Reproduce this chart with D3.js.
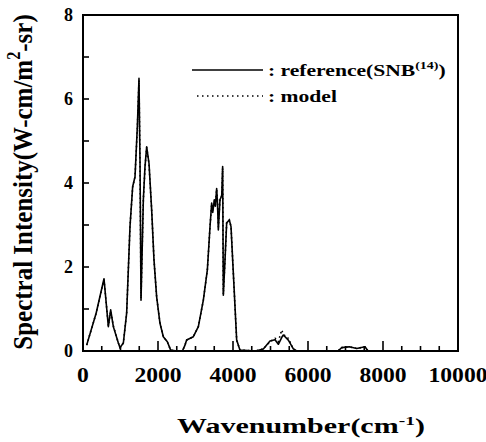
<!DOCTYPE html>
<html>
<head>
<meta charset="utf-8">
<script src="https://cdn.jsdelivr.net/npm/d3@7/dist/d3.min.js"></script>
<style>
  body { margin: 0; background: #fff; }
  text { font-family: "Liberation Serif", "Times New Roman", serif; font-weight: bold; fill: #000; }
</style>
</head>
<body>
<div id="chart"></div>
<script>
// wavenumber (cm-1) and spectral intensity
const wavenumber = [98, 350, 560, 676, 738, 809, 943, 987, 1076, 1164, 1253, 1324, 1387, 1449, 1493, 1520, 1547,
  1609, 1653, 1698, 1760, 1831, 1893, 1964, 2053, 2142, 2249, 2338, 2500, 2650, 2720, 2764, 2942, 3076, 3209,
  3316, 3387, 3431, 3460, 3502, 3530, 3564, 3587, 3609, 3653, 3700, 3724, 3742, 3787, 3831, 3902, 3947, 4009,
  4098, 4187, 4600, 4809, 4987, 5120, 5209, 5298, 5342, 5476, 5609, 5700, 6800, 6900, 7100, 7300, 7520, 7600, 9900];
const refIntensity = [0.14, 0.9, 1.72, 0.58, 0.98, 0.58, 0.19, 0.08, 0.19, 0.9, 2.96, 3.91, 4.15, 5.34, 6.49, 4.55, 1.21,
  3.6, 4.39, 4.86, 4.47, 3.36, 2.17, 1.29, 0.66, 0.34, 0.22, 0.02, 0.0, 0.0, 0.14, 0.26, 0.34, 0.58, 1.21,
  1.93, 2.96, 3.52, 3.3, 3.6, 3.45, 3.87, 3.5, 2.88, 3.6, 3.7, 4.39, 1.33, 2.17, 3.05, 3.12, 2.96, 1.85,
  0.26, 0.02, 0.0, 0.05, 0.24, 0.27, 0.16, 0.32, 0.38, 0.26, 0.05, 0.0, 0.0, 0.08, 0.1, 0.06, 0.1, 0.0, 0.0];
// model mostly lies under the reference curve; it only shows near 5000-5600
const modelIntensity = [0.14, 0.9, 1.7, 0.6, 0.95, 0.6, 0.19, 0.08, 0.19, 0.9, 2.96, 3.9, 4.15, 5.3, 6.45, 4.5, 1.25,
  3.6, 4.35, 4.85, 4.45, 3.36, 2.17, 1.29, 0.66, 0.34, 0.22, 0.02, 0.0, 0.0, 0.14, 0.26, 0.34, 0.58, 1.21,
  1.93, 2.96, 3.5, 3.35, 3.55, 3.5, 3.85, 3.55, 2.95, 3.6, 3.7, 4.35, 1.35, 2.17, 3.05, 3.12, 2.96, 1.85,
  0.26, 0.02, 0.0, 0.05, 0.22, 0.3, 0.22, 0.5, 0.4, 0.3, 0.05, 0.0, 0.0, 0.08, 0.1, 0.06, 0.1, 0.0, 0.0];

const xTickValues = [0, 2000, 4000, 6000, 8000, 10000];
const yTickValues = [0, 2, 4, 6, 8];

const width = 486, height = 442;
const margin = { top: 15, right: 28, bottom: 91, left: 83 };

const svg = d3.select("#chart").append("svg")
  .attr("width", width)
  .attr("height", height);

const x = d3.scaleLinear().domain([0, 10000]).range([margin.left, width - margin.right]);
const y = d3.scaleLinear().domain([0, 8]).range([height - margin.bottom, margin.top]);

// frame
svg.append("rect")
  .attr("x", x(0)).attr("y", y(8))
  .attr("width", x(10000) - x(0)).attr("height", y(0) - y(8))
  .attr("fill", "none").attr("stroke", "#000").attr("stroke-width", 2);

// bottom ticks (inward): minor every 500, longer every 2000
svg.append("g").selectAll("line")
  .data(d3.range(500, 10000, 500))
  .join("line")
  .attr("x1", d => x(d)).attr("x2", d => x(d))
  .attr("y1", y(0)).attr("y2", d => y(0) - (d % 2000 === 0 ? 10 : 5))
  .attr("stroke", "#000").attr("stroke-width", 1.6);

// left ticks (inward) every 1
svg.append("g").selectAll("line")
  .data(d3.range(1, 8))
  .join("line")
  .attr("x1", x(0)).attr("x2", x(0) + 6)
  .attr("y1", d => y(d)).attr("y2", d => y(d))
  .attr("stroke", "#000").attr("stroke-width", 1.6);

// tick labels (the scan is stretched sideways, so widen the glyphs)
svg.append("g").selectAll("text")
  .data(xTickValues)
  .join("text")
  .attr("transform", d => `translate(${x(d)},382) scale(1.18,1)`)
  .attr("text-anchor", "middle")
  .style("font-size", "20px")
  .text(d => d);

svg.append("g").selectAll("text")
  .data(yTickValues)
  .join("text")
  .attr("x", 73).attr("y", d => y(d) + 6)
  .attr("text-anchor", "end")
  .style("font-size", "18px")
  .text(d => d);

// axis titles
const xt = svg.append("text")
  .attr("transform", "translate(301,433) scale(1.5,1)")
  .attr("text-anchor", "middle")
  .style("font-size", "20px");
xt.append("tspan").text("Wavenumber(cm");
xt.append("tspan").attr("dy", -8).style("font-size", "13px").text("-1");
xt.append("tspan").attr("dy", 8).text(")");

const yt = svg.append("text")
  .attr("transform", "translate(31.5,182) rotate(-90) scale(1.25,1.4)")
  .attr("text-anchor", "middle")
  .style("font-size", "20px");
yt.append("tspan").text("Spectral Intensity(W-cm/m");
yt.append("tspan").attr("dy", -8).style("font-size", "13px").text("2");
yt.append("tspan").attr("dy", 8).text("-sr)");

// curves
const line = d3.line().x(d => x(d[0])).y(d => y(d[1]));

svg.append("path")
  .datum(d3.zip(wavenumber, modelIntensity))
  .attr("d", line)
  .attr("fill", "none").attr("stroke", "#000")
  .attr("stroke-width", 1.6).attr("stroke-dasharray", "1.5,3");

svg.append("path")
  .datum(d3.zip(wavenumber, refIntensity))
  .attr("d", line)
  .attr("fill", "none").attr("stroke", "#000")
  .attr("stroke-width", 1.6).attr("stroke-linejoin", "round");

// legend
const legend = svg.append("g");
legend.append("line")
  .attr("x1", 192).attr("x2", 263).attr("y1", 70).attr("y2", 70)
  .attr("stroke", "#000").attr("stroke-width", 1.6);
legend.append("line")
  .attr("x1", 197).attr("x2", 263).attr("y1", 96).attr("y2", 96)
  .attr("stroke", "#000").attr("stroke-width", 1.6).attr("stroke-dasharray", "1.5,3.5");

const lt = legend.append("text")
  .attr("transform", "translate(268,76) scale(1.27,1)")
  .style("font-size", "17px");
lt.append("tspan").text(": reference(SNB");
lt.append("tspan").attr("dy", -7).style("font-size", "11px").text("(14)");
lt.append("tspan").attr("dy", 7).text(")");

legend.append("text")
  .attr("transform", "translate(268,102) scale(1.27,1)")
  .style("font-size", "17px")
  .text(": model");
</script>
</body>
</html>
